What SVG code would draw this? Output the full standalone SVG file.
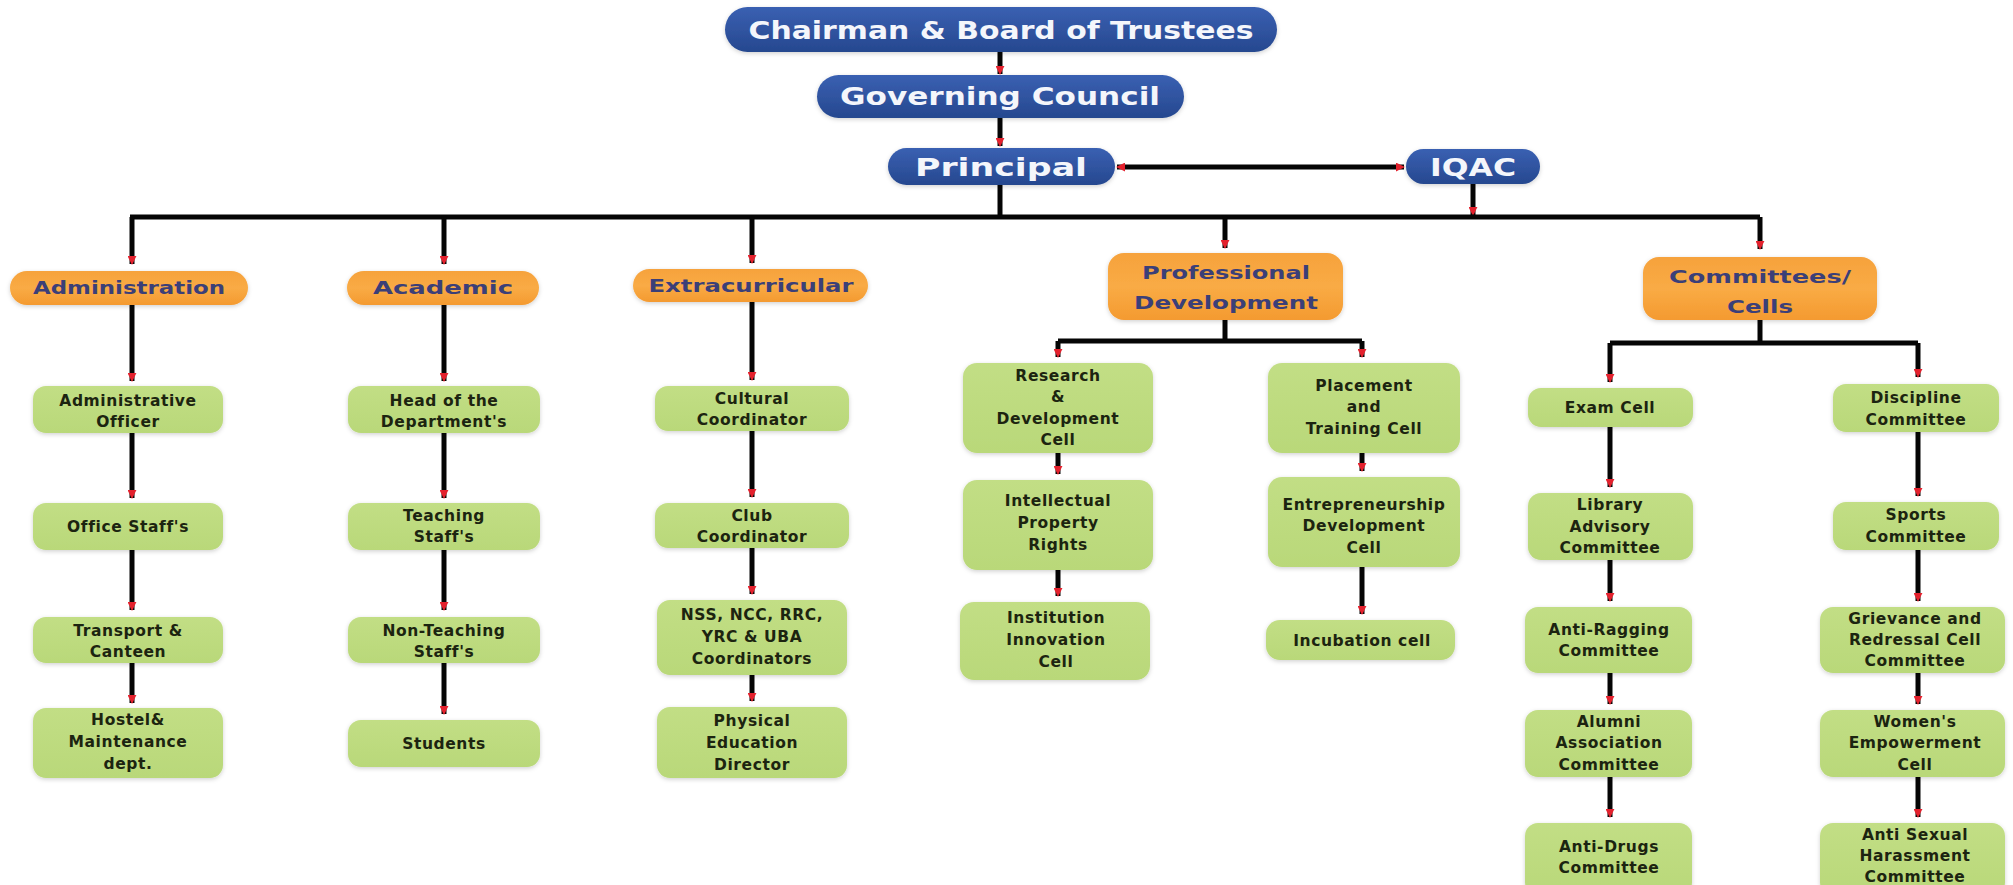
<svg xmlns="http://www.w3.org/2000/svg" width="2013" height="885" viewBox="0 0 2013 885">
<defs>
<linearGradient id="gBlue" x1="0" y1="0" x2="0" y2="1"><stop offset="0" stop-color="#3a60b2"/><stop offset="1" stop-color="#26488f"/></linearGradient>
<linearGradient id="gOrange" x1="0" y1="0" x2="0" y2="1"><stop offset="0" stop-color="#f6a23c"/><stop offset="0.5" stop-color="#f9ab45"/><stop offset="1" stop-color="#f49a30"/></linearGradient>
<linearGradient id="gGreen" x1="0" y1="0" x2="0" y2="1"><stop offset="0" stop-color="#c2de85"/><stop offset="1" stop-color="#b9d879"/></linearGradient>
<filter id="sh" x="-10%" y="-20%" width="120%" height="150%"><feDropShadow dx="0" dy="1.5" stdDeviation="2" flood-color="#000" flood-opacity="0.18"/></filter>
<marker id="ah" viewBox="0 0 10 10" refX="9" refY="5" markerWidth="9" markerHeight="9" markerUnits="userSpaceOnUse" orient="auto-start-reverse"><path d="M0,0 L10,5 L0,10 z" fill="#e3212d"/></marker>
</defs>
<style>
.blue rect{fill:url(#gBlue);filter:url(#sh)}
.orange rect{fill:url(#gOrange);filter:url(#sh)}
.green rect{fill:url(#gGreen);filter:url(#sh)}
text{font-family:"DejaVu Sans","Liberation Sans",sans-serif;font-weight:bold;text-anchor:middle}
.blue text{fill:#f4f6fb;font-size:25px}
.orange text{fill:#3b3f78;font-size:18px}
.green text{fill:#1c2410;font-size:15.5px;letter-spacing:0.6px}
#connectors path{fill:none;stroke:#050505;stroke-width:5}
#connectors path.a{marker-end:url(#ah)}
#connectors path.b{marker-start:url(#ah);marker-end:url(#ah)}
</style>
<rect width="2013" height="885" fill="#ffffff"/>

<g id="connectors">
<path class="a" d="M1000 51 V74"/>
<path class="a" d="M1000 118 V146"/>
<path class="b" d="M1117 167 H1404"/>
<path d="M1000 184 V217"/>
<path class="a" d="M1473 184 V215"/>
<path d="M130 217 H1760"/>
<path class="a" d="M132 217 V264"/>
<path class="a" d="M444 217 V264"/>
<path class="a" d="M752 217 V263"/>
<path class="a" d="M1225 217 V248"/>
<path class="a" d="M1760 217 V249"/>
<path class="a" d="M132 305 V381"/>
<path class="a" d="M132 433 V498"/>
<path class="a" d="M132 550 V610"/>
<path class="a" d="M132 663 V703"/>
<path class="a" d="M444 305 V381"/>
<path class="a" d="M444 433 V498"/>
<path class="a" d="M444 550 V610"/>
<path class="a" d="M444 663 V714"/>
<path class="a" d="M752 302 V380"/>
<path class="a" d="M752 431 V497"/>
<path class="a" d="M752 548 V594"/>
<path class="a" d="M752 675 V701"/>
<path d="M1225 320 V341"/>
<path class="a" d="M1058 341 V357"/>
<path class="a" d="M1362 341 V357"/>
<path d="M1058 341 H1362"/>
<path class="a" d="M1058 453 V474"/>
<path class="a" d="M1058 570 V596"/>
<path class="a" d="M1362 453 V471"/>
<path class="a" d="M1362 567 V614"/>
<path d="M1760 320 V343"/>
<path d="M1610 343 H1918"/>
<path class="a" d="M1610 343 V382"/>
<path class="a" d="M1918 343 V377"/>
<path class="a" d="M1610 427 V487"/>
<path class="a" d="M1610 560 V601"/>
<path class="a" d="M1610 673 V704"/>
<path class="a" d="M1610 777 V817"/>
<path class="a" d="M1918 432 V496"/>
<path class="a" d="M1918 550 V601"/>
<path class="a" d="M1918 673 V704"/>
<path class="a" d="M1918 777 V817"/>
</g>

<g id="chairman" class="blue"><rect x="725" y="7" width="552" height="45" rx="22.5"/><text x="1001" y="39" textLength="505" lengthAdjust="spacingAndGlyphs">Chairman &amp; Board of Trustees</text></g>
<g id="governing-council" class="blue"><rect x="817" y="75" width="367" height="43" rx="21.5"/><text x="1000" y="105" textLength="320" lengthAdjust="spacingAndGlyphs">Governing Council</text></g>
<g id="principal" class="blue"><rect x="888" y="148" width="227" height="37" rx="18.5"/><text x="1001" y="176" textLength="172" lengthAdjust="spacingAndGlyphs">Principal</text></g>
<g id="iqac" class="blue"><rect x="1406" y="149" width="134" height="35" rx="17.5"/><text x="1473" y="176" textLength="86" lengthAdjust="spacingAndGlyphs">IQAC</text></g>

<g id="administration" class="orange"><rect x="10" y="271" width="238" height="34" rx="17"/><text x="129" y="294" textLength="192" lengthAdjust="spacingAndGlyphs">Administration</text></g>
<g id="academic" class="orange"><rect x="347" y="271" width="192" height="34" rx="17"/><text x="443" y="294" textLength="140" lengthAdjust="spacingAndGlyphs">Academic</text></g>
<g id="extracurricular" class="orange"><rect x="633" y="269" width="235" height="33" rx="16.5"/><text x="751" y="292" textLength="205" lengthAdjust="spacingAndGlyphs">Extracurricular</text></g>
<g id="professional-development" class="orange"><rect x="1108" y="253" width="235" height="67" rx="16"/><text x="1226" y="279" textLength="168" lengthAdjust="spacingAndGlyphs">Professional</text><text x="1226" y="309" textLength="184" lengthAdjust="spacingAndGlyphs">Development</text></g>
<g id="committees-cells" class="orange"><rect x="1643" y="257" width="234" height="63" rx="16"/><text x="1760" y="283" textLength="182" lengthAdjust="spacingAndGlyphs">Committees/</text><text x="1760" y="313" textLength="66" lengthAdjust="spacingAndGlyphs">Cells</text></g>

<g id="administrative-officer" class="green"><rect x="33" y="386" width="190" height="47" rx="13"/><text x="128" y="406">Administrative</text><text x="128" y="427">Officer</text></g>
<g id="office-staffs" class="green"><rect x="33" y="503" width="190" height="47" rx="13"/><text x="128" y="532">Office Staff's</text></g>
<g id="transport-canteen" class="green"><rect x="33" y="617" width="190" height="46" rx="13"/><text x="128" y="636">Transport &amp;</text><text x="128" y="657">Canteen</text></g>
<g id="hostel-maintenance" class="green"><rect x="33" y="708" width="190" height="70" rx="13"/><text x="128" y="725">Hostel&amp;</text><text x="128" y="747">Maintenance</text><text x="128" y="769">dept.</text></g>

<g id="head-of-department" class="green"><rect x="348" y="386" width="192" height="47" rx="13"/><text x="444" y="406">Head of the</text><text x="444" y="427">Department's</text></g>
<g id="teaching-staffs" class="green"><rect x="348" y="503" width="192" height="47" rx="13"/><text x="444" y="521">Teaching</text><text x="444" y="542">Staff's</text></g>
<g id="non-teaching-staffs" class="green"><rect x="348" y="617" width="192" height="46" rx="13"/><text x="444" y="636">Non-Teaching</text><text x="444" y="657">Staff's</text></g>
<g id="students" class="green"><rect x="348" y="720" width="192" height="47" rx="13"/><text x="444" y="749">Students</text></g>

<g id="cultural-coordinator" class="green"><rect x="655" y="386" width="194" height="45" rx="13"/><text x="752" y="404">Cultural</text><text x="752" y="425">Coordinator</text></g>
<g id="club-coordinator" class="green"><rect x="655" y="503" width="194" height="45" rx="13"/><text x="752" y="521">Club</text><text x="752" y="542">Coordinator</text></g>
<g id="nss-coordinators" class="green"><rect x="657" y="600" width="190" height="75" rx="13"/><text x="752" y="620">NSS, NCC, RRC,</text><text x="752" y="642">YRC &amp; UBA</text><text x="752" y="664">Coordinators</text></g>
<g id="physical-education-director" class="green"><rect x="657" y="707" width="190" height="71" rx="13"/><text x="752" y="726">Physical</text><text x="752" y="748">Education</text><text x="752" y="770">Director</text></g>

<g id="research-development-cell" class="green"><rect x="963" y="363" width="190" height="90" rx="14"/><text x="1058" y="381">Research</text><text x="1058" y="402">&amp;</text><text x="1058" y="424">Development</text><text x="1058" y="445">Cell</text></g>
<g id="intellectual-property-rights" class="green"><rect x="963" y="480" width="190" height="90" rx="14"/><text x="1058" y="506">Intellectual</text><text x="1058" y="528">Property</text><text x="1058" y="550">Rights</text></g>
<g id="institution-innovation-cell" class="green"><rect x="960" y="602" width="190" height="78" rx="14"/><text x="1056" y="623">Institution</text><text x="1056" y="645">Innovation</text><text x="1056" y="667">Cell</text></g>

<g id="placement-training-cell" class="green"><rect x="1268" y="363" width="192" height="90" rx="14"/><text x="1364" y="391">Placement</text><text x="1364" y="412">and</text><text x="1364" y="434">Training Cell</text></g>
<g id="entrepreneurship-development-cell" class="green"><rect x="1268" y="477" width="192" height="90" rx="14"/><text x="1364" y="510">Entrepreneurship</text><text x="1364" y="531">Development</text><text x="1364" y="553">Cell</text></g>
<g id="incubation-cell" class="green"><rect x="1266" y="620" width="189" height="40" rx="14"/><text x="1362" y="646">Incubation cell</text></g>

<g id="exam-cell" class="green"><rect x="1528" y="388" width="165" height="39" rx="13"/><text x="1610" y="413">Exam Cell</text></g>
<g id="library-advisory-committee" class="green"><rect x="1528" y="493" width="165" height="67" rx="13"/><text x="1610" y="510">Library</text><text x="1610" y="532">Advisory</text><text x="1610" y="553">Committee</text></g>
<g id="anti-ragging-committee" class="green"><rect x="1525" y="607" width="167" height="66" rx="13"/><text x="1609" y="635">Anti-Ragging</text><text x="1609" y="656">Committee</text></g>
<g id="alumni-association-committee" class="green"><rect x="1525" y="710" width="167" height="67" rx="13"/><text x="1609" y="727">Alumni</text><text x="1609" y="748">Association</text><text x="1609" y="770">Committee</text></g>
<g id="anti-drugs-committee" class="green"><rect x="1525" y="823" width="167" height="72" rx="13"/><text x="1609" y="852">Anti-Drugs</text><text x="1609" y="873">Committee</text></g>

<g id="discipline-committee" class="green"><rect x="1833" y="384" width="166" height="48" rx="13"/><text x="1916" y="403">Discipline</text><text x="1916" y="425">Committee</text></g>
<g id="sports-committee" class="green"><rect x="1833" y="502" width="166" height="48" rx="13"/><text x="1916" y="520">Sports</text><text x="1916" y="542">Committee</text></g>
<g id="grievance-redressal-committee" class="green"><rect x="1820" y="607" width="185" height="66" rx="13"/><text x="1915" y="624">Grievance and</text><text x="1915" y="645">Redressal Cell</text><text x="1915" y="666">Committee</text></g>
<g id="womens-empowerment-cell" class="green"><rect x="1820" y="710" width="185" height="67" rx="13"/><text x="1915" y="727">Women's</text><text x="1915" y="748">Empowerment</text><text x="1915" y="770">Cell</text></g>
<g id="anti-sexual-harassment-committee" class="green"><rect x="1820" y="823" width="185" height="72" rx="13"/><text x="1915" y="840">Anti Sexual</text><text x="1915" y="861">Harassment</text><text x="1915" y="882">Committee</text></g>
</svg>
